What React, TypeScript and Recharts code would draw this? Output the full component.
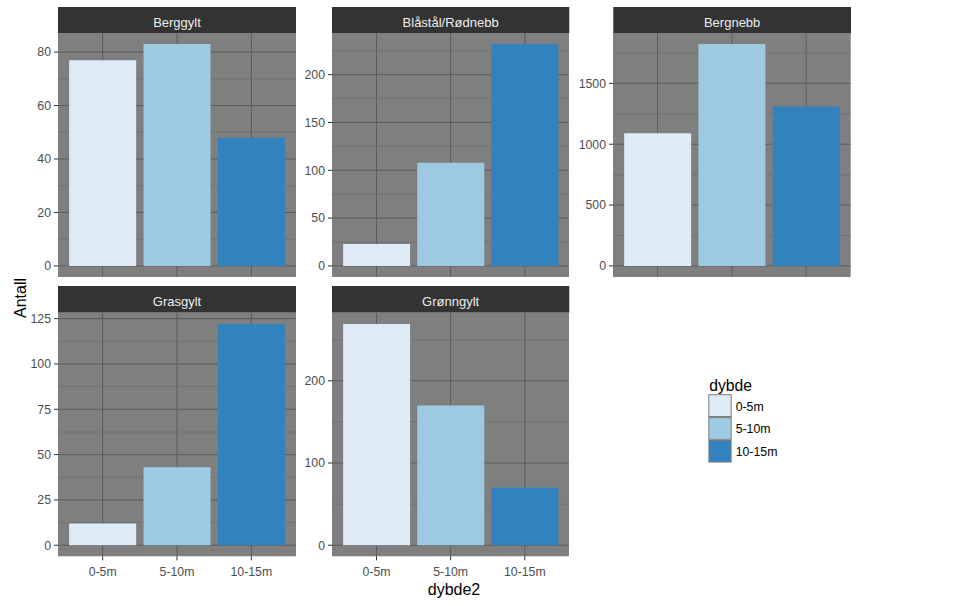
import React from 'react';
import { BarChart, Bar, XAxis, YAxis, CartesianGrid, Cell } from 'recharts';

const depths = ['0-5m', '5-10m', '10-15m'];
const colors = ['#DEEBF7', '#9ECAE1', '#3182BD'];
const species = ['Berggylt', 'Blåstål/Rødnebb', 'Bergnebb', 'Grasgylt', 'Grønngylt'];

const berggylt = [77, 83, 48];
const blastal = [23, 108, 232];
const bergnebb = [1090, 1823, 1310];
const grasgylt = [12, 43, 122];
const gronngylt = [269, 170, 70];

const berggyltTicks = [0, 20, 40, 60, 80];
const blastalTicks = [0, 50, 100, 150, 200];
const bergnebbTicks = [0, 500, 1000, 1500];
const grasgyltTicks = [0, 25, 50, 75, 100, 125];
const gronngyltTicks = [0, 100, 200];

const berggyltMinor = [10, 30, 50, 70];
const blastalMinor = [25, 75, 125, 175, 225];
const bergnebbMinor = [250, 750, 1250, 1750];
const grasgyltMinor = [12.5, 37.5, 62.5, 87.5, 112.5];
const gronngyltMinor = [50, 150, 250];

const FONT = '"Liberation Sans", Arial, sans-serif';
const COLS = [
  { x: 58, w: 238 },
  { x: 332, w: 237.3 },
  { x: 613.3, w: 237.7 },
];
const ROWS = [
  { stripTop: 7, top: 33.3, h: 244 },
  { stripTop: 286, top: 312.7, h: 243.3 },
];

type PanelProps = {
  values: number[];
  ticks: number[];
  minor: number[];
  left: number;
  top: number;
  width: number;
  height: number;
  showX: boolean;
};

function Panel({ values, ticks, minor, left, top, width, height, showX }: PanelProps) {
  const data = depths.map((d, i) => ({ depth: d, value: values[i] }));
  const max = Math.max(...values);
  const domain = [-0.05 * max, 1.05 * max];
  const yW = 60;
  const xH = showX ? 40 : 0;
  const pad = width * 0.03125;
  return (
    <div style={{ position: 'absolute', left: left - yW, top }}>
      <BarChart
        width={width + yW}
        height={height + xH}
        data={data}
        margin={{ top: 0, right: 0, bottom: 0, left: 0 }}
        barCategoryGap="5%"
      >
        <CartesianGrid stroke="#5C5C5C" strokeWidth={1} fill="#7F7F7F" fillOpacity={1} syncWithTicks />
        <CartesianGrid horizontalValues={minor} vertical={false} stroke="#6B6B6B" strokeWidth={0.7} syncWithTicks />
        <XAxis
          dataKey="depth"
          hide={!showX}
          height={xH}
          padding={{ left: pad, right: pad }}
          axisLine={false}
          tickLine={{ stroke: '#333333' }}
          tickSize={4}
          tickMargin={6.5}
          tick={{ fill: '#4D4D4D', fontSize: 12.3 }}
          interval={0}
        />
        <YAxis
          type="number"
          domain={domain}
          ticks={ticks}
          interval={0}
          allowDataOverflow
          width={yW}
          axisLine={false}
          tickLine={{ stroke: '#333333' }}
          tickSize={4}
          tickMargin={3}
          tick={{ fill: '#4D4D4D', fontSize: 12.3 }}
        />
        <Bar dataKey="value" isAnimationActive={false}>
          {data.map((d, i) => (
            <Cell key={d.depth} fill={colors[i]} />
          ))}
        </Bar>
      </BarChart>
    </div>
  );
}

const panels = [
  { values: berggylt, ticks: berggyltTicks, minor: berggyltMinor, col: 0, row: 0 },
  { values: blastal, ticks: blastalTicks, minor: blastalMinor, col: 1, row: 0 },
  { values: bergnebb, ticks: bergnebbTicks, minor: bergnebbMinor, col: 2, row: 0 },
  { values: grasgylt, ticks: grasgyltTicks, minor: grasgyltMinor, col: 0, row: 1 },
  { values: gronngylt, ticks: gronngyltTicks, minor: gronngyltMinor, col: 1, row: 1 },
];

export default function App() {
  return (
    <div
      style={{
        position: 'absolute',
        left: 0,
        top: 0,
        width: 962,
        height: 606,
        background: '#FFFFFF',
        fontFamily: FONT,
        overflow: 'hidden',
      }}
    >
      <svg width={962} height={606} style={{ position: 'absolute', left: 0, top: 0 }}>
        {panels.map((p, i) => {
          const c = COLS[p.col];
          const r = ROWS[p.row];
          return (
            <g key={species[i]}>
              <rect x={c.x} y={r.stripTop} width={c.w} height={r.top - r.stripTop} fill="#333333" />
              <text
                x={c.x + c.w / 2}
                y={r.stripTop + 20.3}
                textAnchor="middle"
                fill="#EDEDED"
                fontSize={13}
                fontFamily={FONT}
              >
                {species[i]}
              </text>
            </g>
          );
        })}
        <text
          x={25.5}
          y={298}
          transform="rotate(-90 25.5 298)"
          textAnchor="middle"
          fontSize={16}
          fill="#000000"
          fontFamily={FONT}
        >
          Antall
        </text>
        <text x={454} y={594.5} textAnchor="middle" fontSize={16} fill="#000000" fontFamily={FONT}>
          dybde2
        </text>
        <text x={709.3} y={391} fontSize={15.7} fill="#000000" fontFamily={FONT}>
          dybde
        </text>
        {depths.map((d, i) => {
          const ky = 394.2 + i * 22.8;
          return (
            <g key={d}>
              <rect x={708.3} y={ky} width={23.4} height={22.8} fill="#7F7F7F" />
              <rect x={709.3} y={ky + 1} width={21.4} height={20.8} fill={colors[i]} />
              <text x={735.7} y={ky + 16.3} fontSize={12.3} fill="#000000" fontFamily={FONT}>
                {d}
              </text>
            </g>
          );
        })}
      </svg>
      {panels.map((p, i) => {
        const c = COLS[p.col];
        const r = ROWS[p.row];
        return (
          <Panel
            key={species[i]}
            values={p.values}
            ticks={p.ticks}
            minor={p.minor}
            left={c.x}
            top={r.top}
            width={c.w}
            height={r.h}
            showX={p.row === 1}
          />
        );
      })}
    </div>
  );
}
